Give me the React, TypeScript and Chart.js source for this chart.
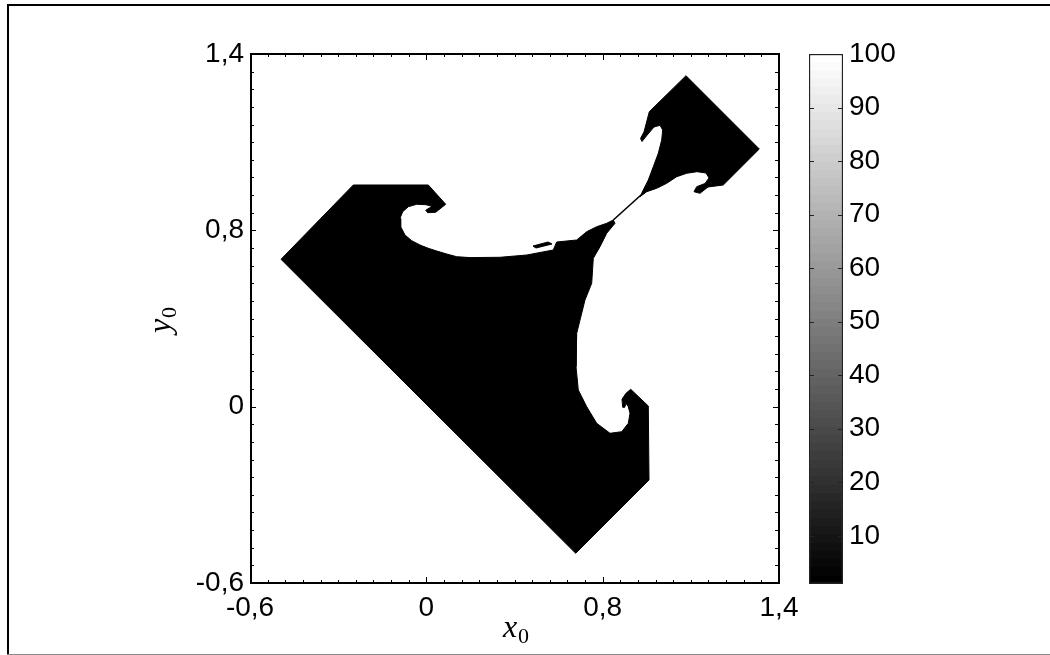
import React, { useEffect, useRef } from 'react';
import { Chart, registerables } from 'chart.js';

Chart.register(...registerables);

// ---- axis / tick data ----
const X_TICK_LABELS = ['-0,6', '0', '0,8', '1,4'];
const Y_TICK_LABELS = ['-0,6', '0', '0,8', '1,4'];
const GRID_MIN = 0;
const GRID_MAX = 30;
const MAJOR_EVERY = 10;
const MAJOR_TICKS = [0, 10, 20, 30];

const COLORBAR_MIN = 1;
const COLORBAR_MAX = 100;
const COLORBAR_TICKS = [10, 20, 30, 40, 50, 60, 70, 80, 90, 100];
const COLORBAR_LEVELS = 64;

// ---- basin outlines (grid units, 0..30 on each axis) ----
const MAIN_X = [1.758, 5.858, 10.112, 11.098, 10.531, 10.077, 9.964, 10.168, 10.321, 9.981, 9.454, 8.977, 8.66, 8.507, 8.546, 8.79, 9.17, 9.641, 10.112, 10.588, 11.155, 11.722, 12.476, 14.178, 15.692, 17.2, 17.393, 18.528, 19.095, 19.662, 20.229, 20.603, 20.7, 20.229, 19.849, 19.469, 19.378, 18.998, 18.715, 18.528, 18.488, 18.618, 19.095, 19.662, 20.416, 21.08, 21.454, 21.55, 21.454, 21.323, 21.25, 21.136, 21.096, 21.323, 21.59, 22.588, 22.628, 18.471, 1.758];
const MAIN_Y = [18.357, 22.571, 22.571, 21.477, 21.023, 21.0, 21.136, 21.267, 21.363, 21.454, 21.477, 21.34, 21.057, 20.683, 20.206, 19.735, 19.412, 19.168, 18.981, 18.828, 18.658, 18.505, 18.454, 18.471, 18.601, 18.885, 19.338, 19.452, 19.923, 20.206, 20.399, 20.586, 20.399, 19.832, 19.072, 18.414, 16.996, 16.049, 14.915, 14.161, 12.267, 10.945, 9.998, 9.057, 8.49, 8.58, 9.057, 9.624, 9.998, 10.191, 9.964, 9.964, 10.418, 10.758, 10.985, 10.038, 5.841, 1.684, 18.357];

const LOBE_X = [24.726, 28.883, 26.841, 25.974, 25.52, 25.18, 25.333, 25.804, 26.03, 25.86, 25.35, 24.766, 24.199, 23.631, 23.064, 22.497, 22.117, 22.304, 22.588, 22.872, 23.155, 23.348, 23.405, 23.252, 22.911, 22.571, 22.231, 22.146, 22.344, 22.645, 24.726];
const LOBE_Y = [28.77, 24.613, 22.571, 22.458, 22.1, 22.191, 22.475, 22.656, 22.968, 23.252, 23.325, 23.235, 23.042, 22.667, 22.384, 22.191, 21.907, 22.287, 22.855, 23.609, 24.369, 25.123, 25.69, 25.957, 25.86, 25.463, 25.038, 25.208, 25.577, 26.728, 28.77];

const SLIVER_X = [16.049, 16.9, 17.126, 16.219, 16.049];
const SLIVER_Y = [19.111, 19.338, 19.225, 18.998, 19.111];

const FILAMENT_X = [20.603, 22.174];
const FILAMENT_Y = [20.586, 22.004];

const TICK_FONT = { family: "'Liberation Sans', Arial, Helvetica, sans-serif", size: 28 };

function pts(xs: number[], ys: number[]) {
  return xs.map((x, i) => ({ x, y: ys[i] }));
}

function polygon(xs: number[], ys: number[]) {
  return {
    data: pts(xs, ys),
    showLine: true,
    fill: 'shape',
    backgroundColor: '#000',
    borderColor: '#000',
    borderWidth: 1,
    pointRadius: 0,
    tension: 0,
  };
}

const mainPlugin = {
  id: 'mainDecor',
  afterDraw(chart: any) {
    const { ctx, chartArea: ca } = chart;
    const xs = chart.scales.x;
    const ys = chart.scales.y;
    ctx.save();
    // inward ticks on all four sides
    ctx.strokeStyle = '#000';
    ctx.lineWidth = 1;
    ctx.beginPath();
    for (let t = GRID_MIN + 1; t < GRID_MAX; t++) {
      const major = t % MAJOR_EVERY === 0;
      const px = Math.round(xs.getPixelForValue(t)) + 0.5;
      const lh = major ? 6 : 3;
      ctx.moveTo(px, ca.bottom);
      ctx.lineTo(px, ca.bottom - lh);
      ctx.moveTo(px, ca.top);
      ctx.lineTo(px, ca.top + lh);
      const py = Math.round(ys.getPixelForValue(t)) + 0.5;
      const lv = major ? 6 : 4;
      ctx.moveTo(ca.left, py);
      ctx.lineTo(ca.left + lv, py);
      ctx.moveTo(ca.right, py);
      ctx.lineTo(ca.right - lv, py);
    }
    ctx.stroke();
    // plot box
    ctx.lineWidth = 2;
    ctx.strokeRect(ca.left + 1, ca.top, ca.right - ca.left - 1, ca.bottom - ca.top);

    // axis titles
    ctx.fillStyle = '#000';
    const big = "italic 32px 'Liberation Serif', 'DejaVu Serif', serif";
    const small = "22px 'Liberation Serif', 'DejaVu Serif', serif";
    // x0
    ctx.font = big;
    const wx = ctx.measureText('x').width;
    ctx.font = small;
    const w0 = ctx.measureText('0').width;
    const cx = (ca.left + ca.right) / 2 + 1;
    const x0 = cx - (wx + w0) / 2;
    ctx.textBaseline = 'alphabetic';
    ctx.textAlign = 'left';
    ctx.font = big;
    ctx.fillText('x', x0, 637);
    ctx.font = small;
    ctx.fillText('0', x0 + wx + 1, 643);
    // y0 (rotated)
    ctx.save();
    ctx.translate(170, (ca.top + ca.bottom) / 2 + 2);
    ctx.rotate(-Math.PI / 2);
    ctx.font = big;
    const wy = ctx.measureText('y').width;
    const y0 = -(wy + w0) / 2;
    ctx.fillText('y', y0, 0);
    ctx.font = small;
    ctx.fillText('0', y0 + wy + 1, 6);
    ctx.restore();

    // figure frame
    ctx.fillStyle = '#000';
    ctx.fillRect(7, 4, 2, chart.height - 4);
    ctx.fillRect(7, 4, chart.width - 7, 2);
    ctx.fillStyle = '#8c8c8c';
    ctx.fillRect(7, chart.height - 1, chart.width - 7, 1);
    ctx.restore();
  },
};

const colorbarPlugin = {
  id: 'cbDecor',
  afterDraw(chart: any) {
    const { ctx, chartArea: ca } = chart;
    const ys = chart.scales.y;
    ctx.save();
    ctx.strokeStyle = '#222';
    ctx.lineWidth = 1;
    ctx.beginPath();
    COLORBAR_TICKS.forEach((v) => {
      if (v >= COLORBAR_MAX) return;
      const py = Math.round(ys.getPixelForValue(v)) + 0.5;
      ctx.moveTo(ca.left, py);
      ctx.lineTo(ca.left + 5, py);
      ctx.moveTo(ca.right, py);
      ctx.lineTo(ca.right - 5, py);
    });
    ctx.stroke();
    ctx.restore();
  },
};

function grayGradient(context: any) {
  const chart = context.chart;
  const area = chart.chartArea;
  if (!area) return '#000';
  const g = chart.ctx.createLinearGradient(0, area.bottom, 0, area.top);
  for (let i = 0; i < COLORBAR_LEVELS; i++) {
    const c = Math.round((i * 255) / (COLORBAR_LEVELS - 1));
    const col = `rgb(${c},${c},${c})`;
    g.addColorStop(i / COLORBAR_LEVELS, col);
    g.addColorStop((i + 1) / COLORBAR_LEVELS, col);
  }
  return g;
}

export default function App() {
  const mainRef = useRef<HTMLCanvasElement>(null);
  const cbRef = useRef<HTMLCanvasElement>(null);

  useEffect(() => {
    if (!mainRef.current || !cbRef.current) return;
    const main = new Chart(mainRef.current, {
      type: 'line',
      data: {
        datasets: [
          polygon(MAIN_X, MAIN_Y),
          polygon(LOBE_X, LOBE_Y),
          polygon(SLIVER_X, SLIVER_Y),
          {
            data: pts(FILAMENT_X, FILAMENT_Y),
            showLine: true,
            fill: false,
            borderColor: '#000',
            borderWidth: 1.6,
            pointRadius: 0,
          },
        ],
      } as any,
      options: {
        animation: false,
        responsive: false,
        events: [],
        layout: { padding: { left: 0, top: 54, right: 271, bottom: 0 } },
        plugins: { legend: { display: false }, tooltip: { enabled: false } },
        scales: {
          x: {
            type: 'linear',
            min: GRID_MIN,
            max: GRID_MAX,
            grid: { display: false, drawTicks: false },
            border: { display: false },
            afterBuildTicks: (s: any) => {
              s.ticks = MAJOR_TICKS.map((v) => ({ value: v }));
            },
            ticks: {
              autoSkip: false,
              maxRotation: 0,
              padding: 8,
              color: '#000',
              font: TICK_FONT,
              callback: (v: any) => X_TICK_LABELS[Math.round(Number(v) / MAJOR_EVERY)],
            },
            afterFit: (s: any) => {
              s.height = 72;
            },
          },
          y: {
            type: 'linear',
            min: GRID_MIN,
            max: GRID_MAX,
            grid: { display: false, drawTicks: false },
            border: { display: false },
            afterBuildTicks: (s: any) => {
              s.ticks = MAJOR_TICKS.map((v) => ({ value: v }));
            },
            ticks: {
              autoSkip: false,
              padding: 6,
              color: '#000',
              font: TICK_FONT,
              callback: (v: any) => Y_TICK_LABELS[Math.round(Number(v) / MAJOR_EVERY)],
            },
            afterFit: (s: any) => {
              s.width = 250;
            },
          },
        },
      } as any,
      plugins: [mainPlugin],
    });

    const cb = new Chart(cbRef.current, {
      type: 'bar',
      data: {
        labels: [''],
        datasets: [
          {
            data: [[COLORBAR_MIN, COLORBAR_MAX]],
            backgroundColor: grayGradient,
            borderColor: '#222',
            borderWidth: 1.5,
            borderSkipped: false,
            barPercentage: 1,
            categoryPercentage: 1,
          },
        ],
      } as any,
      options: {
        animation: false,
        responsive: false,
        events: [],
        layout: { padding: { left: 29, top: 54, right: 0, bottom: 71 } },
        plugins: { legend: { display: false }, tooltip: { enabled: false } },
        scales: {
          x: { display: false },
          y: {
            position: 'right',
            min: COLORBAR_MIN,
            max: COLORBAR_MAX,
            grid: { display: false, drawTicks: false },
            border: { display: false },
            afterBuildTicks: (s: any) => {
              s.ticks = COLORBAR_TICKS.map((v) => ({ value: v }));
            },
            ticks: { padding: 6, color: '#000', font: TICK_FONT },
            afterFit: (s: any) => {
              s.width = 207;
            },
          },
        },
      } as any,
      plugins: [colorbarPlugin],
    });

    return () => {
      main.destroy();
      cb.destroy();
    };
  }, []);

  return (
    <div style={{ position: 'absolute', left: 0, top: 0, width: 1050, height: 655, background: '#fff', overflow: 'hidden' }}>
      <canvas ref={mainRef} width={1050} height={655} style={{ position: 'absolute', left: 0, top: 0, width: 1050, height: 655 }} />
      <canvas ref={cbRef} width={270} height={655} style={{ position: 'absolute', left: 780, top: 0, width: 270, height: 655 }} />
    </div>
  );
}
